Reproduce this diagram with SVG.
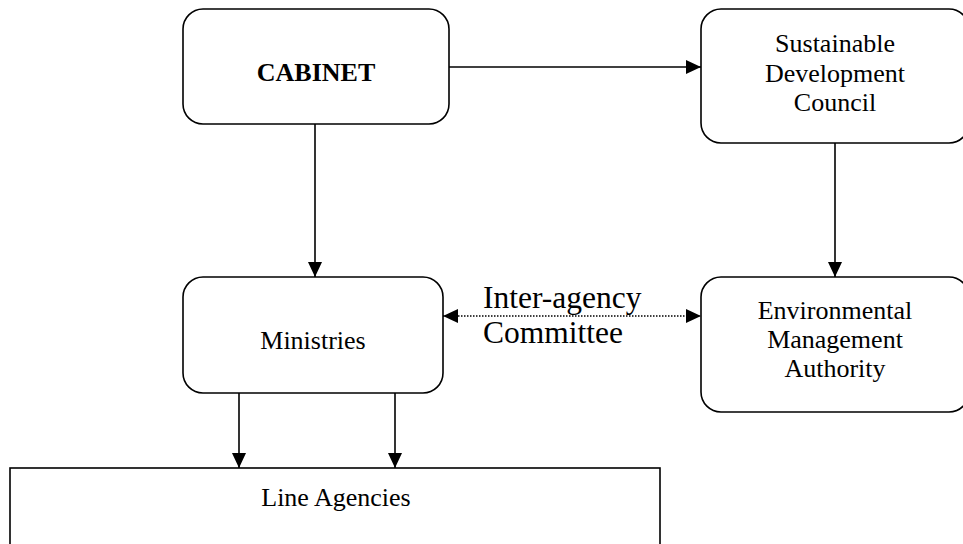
<svg xmlns="http://www.w3.org/2000/svg" width="963" height="544" viewBox="0 0 963 544">
<style>
.box{fill:#fff;stroke:#000;stroke-width:1.6}
.t{font-family:"Liberation Serif","Times New Roman",serif;font-size:26px;fill:#000;text-anchor:middle}
.c{stroke:#000;stroke-width:1.6;fill:none}
.d{stroke:#000;stroke-width:1.3;fill:none;stroke-dasharray:1.5 1.5}
</style>
<defs>
<marker id="ah" viewBox="0 0 15 14" refX="15" refY="7" markerWidth="15" markerHeight="14" markerUnits="userSpaceOnUse" orient="auto-start-reverse">
<path d="M0,0 L15,7 L0,14 Z" fill="#000"/>
</marker>
</defs>
<rect width="963" height="544" fill="#fff"/>
<g id="connectors">
<line class="c" x1="449" y1="67" x2="701" y2="67" marker-end="url(#ah)"/>
<line class="c" x1="315" y1="124" x2="315" y2="277" marker-end="url(#ah)"/>
<line class="c" x1="835" y1="143" x2="835" y2="277" marker-end="url(#ah)"/>
<line class="d" x1="443" y1="316" x2="701" y2="316" marker-start="url(#ah)" marker-end="url(#ah)"/>
<line class="c" x1="239" y1="393" x2="239" y2="468" marker-end="url(#ah)"/>
<line class="c" x1="395" y1="393" x2="395" y2="468" marker-end="url(#ah)"/>
</g>
<g id="cabinet">
<rect class="box" x="183" y="9" width="266" height="115" rx="20"/>
<text class="t" x="316" y="81" font-weight="bold">CABINET</text>
</g>
<g id="sdc">
<rect class="box" x="701" y="9" width="268" height="134" rx="20"/>
<text class="t" x="835" y="52">Sustainable</text>
<text class="t" x="835" y="82">Development</text>
<text class="t" x="835" y="111">Council</text>
</g>
<g id="ministries">
<rect class="box" x="183" y="277" width="260" height="116" rx="20"/>
<text class="t" x="313" y="349">Ministries</text>
</g>
<g id="ema">
<rect class="box" x="701" y="277" width="268" height="135" rx="20"/>
<text class="t" x="835" y="319">Environmental</text>
<text class="t" x="835" y="348">Management</text>
<text class="t" x="835" y="377">Authority</text>
</g>
<g id="committee-label">
<text x="483" y="308" font-family="Liberation Serif, 'Times New Roman', serif" font-size="31.5" fill="#000">Inter-agency</text>
<text x="483" y="343" font-family="Liberation Serif, 'Times New Roman', serif" font-size="31.5" fill="#000">Committee</text>
</g>
<g id="line-agencies">
<rect class="box" x="10" y="468" width="650" height="100"/>
<text class="t" x="336" y="506">Line Agencies</text>
</g>
</svg>
